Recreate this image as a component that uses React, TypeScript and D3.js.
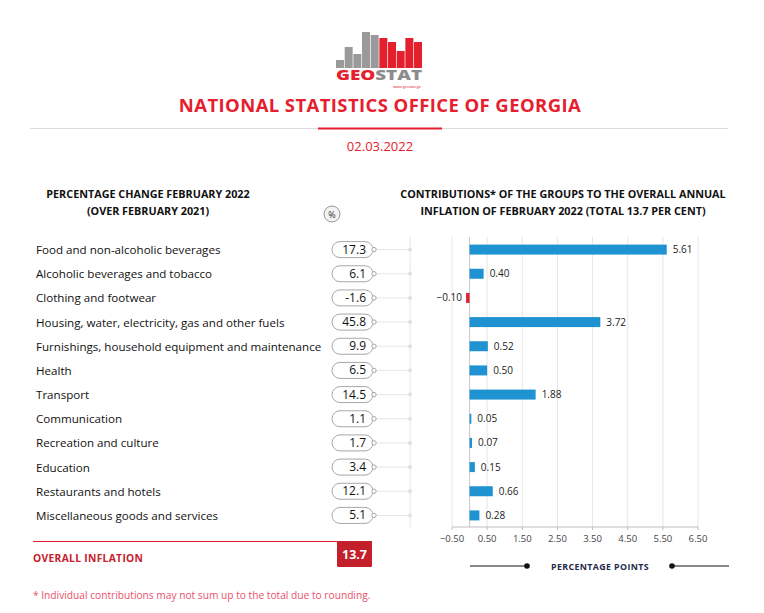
import React from "react";
import * as d3 from "d3";

const categories = [
  "Food and non-alcoholic beverages",
  "Alcoholic beverages and tobacco",
  "Clothing and footwear",
  "Housing, water, electricity, gas and other fuels",
  "Furnishings, household equipment and maintenance",
  "Health",
  "Transport",
  "Communication",
  "Recreation and culture",
  "Education",
  "Restaurants and hotels",
  "Miscellaneous goods and services",
];
const pctChange = [17.3, 6.1, -1.6, 45.8, 9.9, 6.5, 14.5, 1.1, 1.7, 3.4, 12.1, 5.1];
const contributions = [5.61, 0.4, -0.1, 3.72, 0.52, 0.5, 1.88, 0.05, 0.07, 0.15, 0.66, 0.28];
const xTicks = [-0.5, 0.5, 1.5, 2.5, 3.5, 4.5, 5.5, 6.5];
const overall = 13.7;

// logo bars (relative heights)
const logoGrey = [8, 21, 14, 36, 33];
const logoRed = [30, 26, 17, 30, 26];

const RED = "#e5202e";
const BLUE = "#1f93d1";
const FONT = "'Open Sans', 'Noto Sans', sans-serif";

export default function App() {
  const W = 764;
  const H = 613;
  const x = d3.scaleLinear().domain([-0.5, 6.5]).range([452, 698]);
  const y = d3.scaleBand<string>().domain(categories).range([237.5, 527.5]);
  const bh = 10;
  const fmt = d3.format(".2f");

  const logoX = d3.scaleBand<number>().domain(d3.range(10)).range([336, 422]).paddingInner(0.08);

  return (
    <svg width={W} height={H} style={{ display: "block", margin: "-8px", fontFamily: FONT }}>
      <rect width={W} height={H} fill="#fff" />

      {/* logo */}
      <g>
        {[...logoGrey, ...logoRed].map((h, i) => (
          <rect
            key={i}
            x={logoX(i)!}
            y={68 - h}
            width={logoX.bandwidth()}
            height={h}
            fill={i < 5 ? "#9a9a9a" : RED}
          />
        ))}
        <text x={336} y={80} fontSize={13.5} fontWeight={800} textLength={86} lengthAdjust="spacingAndGlyphs" fill={RED}>
          GEO<tspan fill="#8c8c8c">STAT</tspan>
        </text>
        <text x={421} y={88} fontSize={3.8} textAnchor="end" fill={RED}>www.geostat.ge</text>
      </g>

      <text x={380} y={112} textAnchor="middle" fontSize={18.5} fontWeight={700} fill={RED} letterSpacing={0.4}>
        NATIONAL STATISTICS OFFICE OF GEORGIA
      </text>
      <line x1={30} x2={728} y1={128.5} y2={128.5} stroke="#dcdcdc" strokeWidth={1} />
      <line x1={318} x2={442} y1={128.5} y2={128.5} stroke={RED} strokeWidth={2} />
      <text x={380} y={151} textAnchor="middle" fontSize={13} fill={RED}>02.03.2022</text>

      {/* headings */}
      <g fontSize={10.8} fontWeight={700} fill="#111" textAnchor="middle">
        <text x={148} y={198}>PERCENTAGE CHANGE FEBRUARY 2022</text>
        <text x={148} y={215}>(OVER FEBRUARY 2021)</text>
        <text x={563} y={198}>CONTRIBUTIONS* OF THE GROUPS TO THE OVERALL ANNUAL</text>
        <text x={563} y={215}>INFLATION OF FEBRUARY 2022 (TOTAL 13.7 PER CENT)</text>
      </g>
      <circle cx={332} cy={214} r={8} fill="#f2f2f2" stroke="#999" strokeWidth={1} />
      <text x={332} y={217.5} textAnchor="middle" fontSize={9} fill="#333">%</text>

      {/* connector vertical */}
      <line x1={410} x2={410} y1={237} y2={527} stroke="#e6e6e6" />

      {/* grid */}
      {xTicks.map((t) => (
        <line key={t} x1={x(t)} x2={x(t)} y1={237} y2={527} stroke="#e6e6e6" />
      ))}
      <line x1={x(0)} x2={x(0)} y1={237} y2={527} stroke="#c8c8c8" />
      <line x1={x(-0.5)} x2={x(6.5)} y1={527} y2={527} stroke="#bdbdbd" />
      {xTicks.map((t) => (
        <g key={"t" + t}>
          <line x1={x(t)} x2={x(t)} y1={527} y2={530} stroke="#bdbdbd" />
          <text x={x(t)} y={542} textAnchor="middle" fontSize={9.5} fill="#444">
            {fmt(t)}
          </text>
        </g>
      ))}

      {categories.map((c, i) => {
        const cy = y(c)! + y.bandwidth() / 2;
        const v = contributions[i];
        const x0 = x(Math.min(0, v));
        const x1 = x(Math.max(0, v));
        return (
          <g key={c}>
            <text x={36} y={cy + 4.5} fontSize={11.6} fill="#111">{c}</text>
            <line x1={374} x2={410} y1={cy} y2={cy} stroke="#e6e6e6" />
            <circle cx={410} cy={cy} r={2} fill="#e0e0e0" />
            <rect x={332} y={cy - 8} width={41} height={16} rx={8} fill="#fff" stroke="#a8a8a8" />
            <circle cx={374} cy={cy} r={2.2} fill="#fff" stroke="#a8a8a8" />
            <text x={366} y={cy + 4} textAnchor="end" fontSize={12} fill="#111">
              {pctChange[i].toFixed(1)}
            </text>
            <rect x={x0} y={cy - bh / 2} width={x1 - x0} height={bh} fill={v < 0 ? RED : BLUE} />
            <text
              x={v < 0 ? x0 - 4 : x1 + 6}
              y={cy + 3.5}
              textAnchor={v < 0 ? "end" : "start"}
              fontSize={10}
              fill="#222"
            >
              {fmt(v)}
            </text>
          </g>
        );
      })}

      {/* overall */}
      <line x1={33} x2={372} y1={541.5} y2={541.5} stroke={RED} strokeWidth={1} />
      <text x={33} y={562} fontSize={10.3} fontWeight={700} fill="#c8202e" letterSpacing={0.3}>OVERALL INFLATION</text>
      <rect x={337} y={541} width={35} height={26} rx={1.5} fill="#c4202b" />
      <text x={354.5} y={559} textAnchor="middle" fontSize={12.5} fontWeight={700} fill="#fff">{overall.toFixed(1)}</text>

      {/* percentage points */}
      <line x1={470} x2={527} y1={566} y2={566} stroke="#111" />
      <circle cx={527} cy={566} r={2.8} fill="#111" />
      <line x1={672} x2={729} y1={566} y2={566} stroke="#111" />
      <circle cx={672} cy={566} r={2.8} fill="#111" />
      <text x={600} y={569.5} textAnchor="middle" fontSize={8.8} fontWeight={700} fill="#1e2a4a" letterSpacing={0.4}>
        PERCENTAGE POINTS
      </text>

      <text x={33} y={599} fontSize={10.2} fill="#e8506a">
        * Individual contributions may not sum up to the total due to rounding.
      </text>
    </svg>
  );
}
